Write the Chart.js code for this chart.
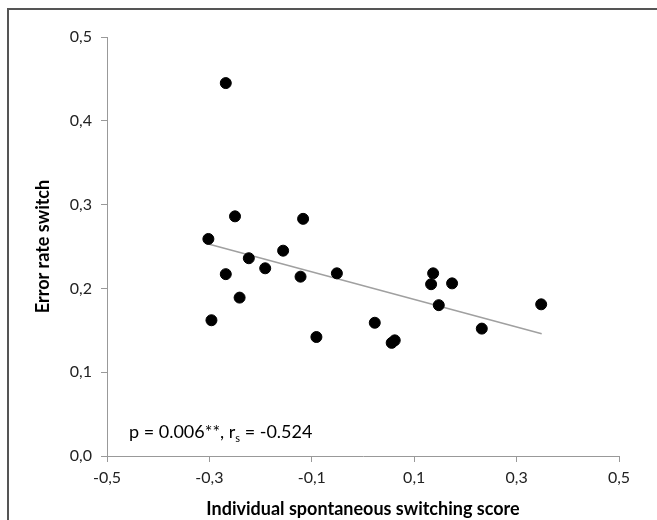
<!DOCTYPE html>
<html>
<head>
<meta charset="utf-8">
<script src="https://cdn.jsdelivr.net/npm/chart.js@4"></script>
<style>
  body { margin: 0; background: #fff; }
  #wrap { position: relative; width: 657px; height: 520px; }
  #frame { position: absolute; left: 7px; top: 8px; right: 0; bottom: 0;
           border-top: 2px solid #555; border-left: 2px solid #555; pointer-events: none; }
</style>
</head>
<body>
<div id="wrap">
  <canvas id="chart" width="657" height="520"></canvas>
  <div id="frame"></div>
</div>
<script>
  // spontaneous switching score (x) vs error rate on switch trials (y)
  const switchScore = [-0.268, -0.250, -0.117, -0.302, -0.223, -0.156, -0.191, -0.268, -0.122, -0.051, -0.241,
                       -0.296, -0.091, 0.023, 0.056, 0.062, 0.137, 0.133, 0.174, 0.148, 0.232, 0.348];
  const errorRate = [0.445, 0.286, 0.283, 0.259, 0.236, 0.245, 0.224, 0.217, 0.214, 0.218, 0.189,
                     0.162, 0.142, 0.159, 0.135, 0.138, 0.218, 0.205, 0.206, 0.180, 0.152, 0.181];

  const trendX = [-0.302, 0.349];
  const trendY = [0.253, 0.146];

  const xTicks = [-0.5, -0.3, -0.1, 0.1, 0.3, 0.5];
  const yTicks = [0.0, 0.1, 0.2, 0.3, 0.4, 0.5];

  const pts = switchScore.map((x, i) => ({ x: x, y: errorRate[i] }));
  const trend = trendX.map((x, i) => ({ x: x, y: trendY[i] }));

  const comma = v => v.toFixed(1).replace('.', ',');

  const statsText = {
    id: 'statsText',
    afterDraw(chart) {
      const ctx = chart.ctx;
      ctx.save();
      ctx.fillStyle = '#000';
      ctx.textBaseline = 'alphabetic';
      ctx.font = '18px Lato';
      let x = 129, y = 438;
      const a = 'p = 0.006**, r';
      ctx.fillText(a, x, y);
      x += ctx.measureText(a).width;
      ctx.font = '11px Lato';
      ctx.fillText('s', x, y + 4);
      x += ctx.measureText('s').width;
      ctx.font = '18px Lato';
      ctx.fillText(' = -0.524', x, y);
      ctx.restore();
    }
  };

  new Chart(document.getElementById('chart'), {
    type: 'scatter',
    data: {
      datasets: [{
        data: pts,
        backgroundColor: '#000',
        borderColor: '#000',
        pointRadius: 5.5,
        pointHoverRadius: 5.5
      }, {
        data: trend,
        showLine: true,
        borderColor: '#a0a0a0',
        borderWidth: 1.5,
        pointRadius: 0
      }]
    },
    options: {
      responsive: false,
      animation: false,
      layout: { padding: { left: 0, top: 37, right: 38, bottom: 0 } },
      plugins: { legend: { display: false }, tooltip: { enabled: false } },
      scales: {
        x: {
          type: 'linear',
          min: -0.5, max: 0.5,
          afterBuildTicks: s => { s.ticks = xTicks.map(v => ({ value: v })); },
          afterFit: s => { s.height = 64; },
          grid: { drawOnChartArea: false, drawTicks: true, tickLength: 6, color: '#999' },
          border: { color: '#999', width: 1 },
          ticks: { padding: 6, color: '#222', font: { family: 'Lato', size: 16 }, callback: comma },
          title: { display: true, text: 'Individual spontaneous switching score', color: '#000',
                   font: { family: 'Lato', size: 18, weight: 'bold' }, padding: { top: 6, bottom: 0 } }
        },
        y: {
          type: 'linear',
          min: 0, max: 0.5,
          afterBuildTicks: s => { s.ticks = yTicks.map(v => ({ value: v })); },
          afterFit: s => { s.width = 107; },
          grid: { drawOnChartArea: false, drawTicks: true, tickLength: 6, color: '#999' },
          border: { color: '#999', width: 1 },
          ticks: { padding: 9, color: '#222', font: { family: 'Lato', size: 16 }, callback: comma },
          title: { display: true, text: 'Error rate switch', color: '#000',
                   font: { family: 'Lato', size: 18, weight: 'bold' }, padding: { top: 32, bottom: 0 } }
        }
      }
    },
    plugins: [statsText]
  });
</script>
</body>
</html>
